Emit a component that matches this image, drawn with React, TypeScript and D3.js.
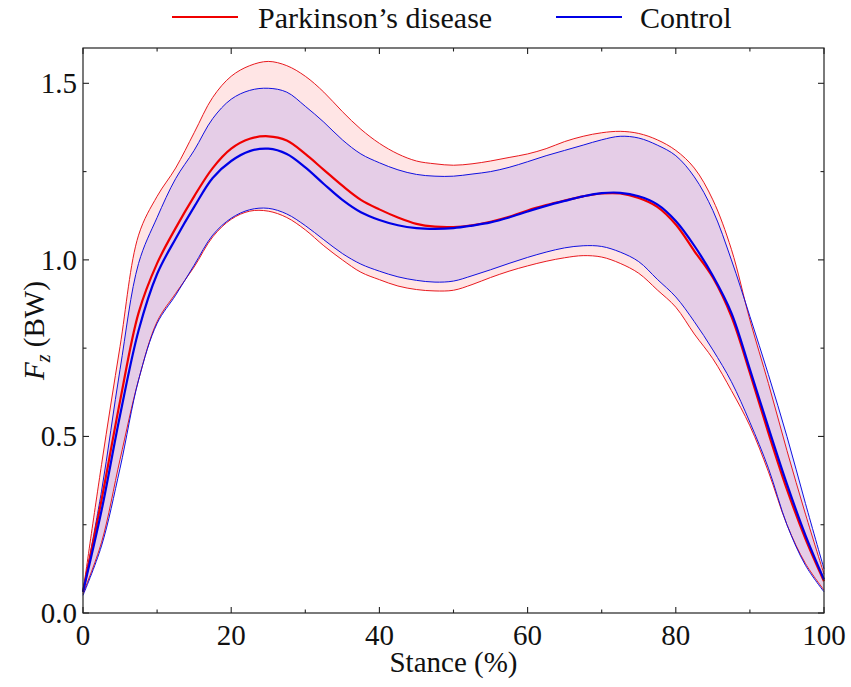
import React from 'react'
import * as d3 from 'd3'

// stance (%) sample points
const stance = [0, 2.5, 5, 7.5, 10, 12.5, 15, 17.5, 20, 22.5, 25, 27.5, 30, 32.5, 35, 37.5, 40, 42.5, 45, 47.5, 50,
  52.5, 55, 57.5, 60, 62.5, 65, 67.5, 70, 72.5, 75, 77.5, 80, 82.5, 85, 87.5, 90, 92.5, 95, 97.5, 100]

// Parkinson's disease: mean, mean + sd, mean - sd
const pdMean = [0.06, 0.32, 0.6, 0.85, 0.99, 1.09, 1.18, 1.26, 1.315, 1.343, 1.35, 1.338, 1.3, 1.255, 1.21, 1.17, 1.143,
  1.12, 1.102, 1.094, 1.093, 1.098, 1.108, 1.122, 1.14, 1.155, 1.168, 1.18, 1.188, 1.188, 1.175, 1.15, 1.1, 1.025, 0.95,
  0.84, 0.68, 0.51, 0.35, 0.21, 0.09]
const pdUpper = [0.06, 0.42, 0.755, 1.07, 1.18, 1.26, 1.36, 1.46, 1.52, 1.55, 1.562, 1.55, 1.52, 1.475, 1.42, 1.37, 1.33,
  1.3, 1.28, 1.272, 1.268, 1.272, 1.28, 1.29, 1.3, 1.315, 1.335, 1.35, 1.36, 1.364, 1.358, 1.34, 1.31, 1.26, 1.17, 1.03,
  0.83, 0.65, 0.46, 0.28, 0.11]
const pdLower = [0.055, 0.2, 0.435, 0.66, 0.825, 0.905, 0.98, 1.065, 1.115, 1.138, 1.138, 1.12, 1.085, 1.04, 1.0, 0.965,
  0.944, 0.926, 0.916, 0.912, 0.914, 0.93, 0.95, 0.968, 0.983, 0.996, 1.006, 1.012, 1.008, 0.99, 0.962, 0.915, 0.866,
  0.79, 0.72, 0.63, 0.53, 0.40, 0.25, 0.14, 0.065]

// Control: mean, mean + sd, mean - sd
const ctMean = [0.06, 0.29, 0.56, 0.8, 0.96, 1.06, 1.15, 1.232, 1.28, 1.308, 1.315, 1.3, 1.262, 1.215, 1.17, 1.135, 1.113,
  1.098, 1.09, 1.088, 1.09, 1.097, 1.106, 1.12, 1.137, 1.153, 1.167, 1.18, 1.189, 1.19, 1.18, 1.157, 1.11, 1.04, 0.955,
  0.85, 0.69, 0.525, 0.365, 0.22, 0.095]
const ctUpper = [0.06, 0.345, 0.69, 0.99, 1.12, 1.23, 1.31, 1.4, 1.455, 1.48, 1.486, 1.475, 1.435, 1.39, 1.34, 1.3, 1.275,
  1.255, 1.242, 1.237, 1.237, 1.243, 1.25, 1.262, 1.278, 1.295, 1.31, 1.325, 1.34, 1.35, 1.345, 1.325, 1.295, 1.235, 1.14,
  1.0, 0.84, 0.675, 0.5, 0.31, 0.125]
const ctLower = [0.05, 0.19, 0.41, 0.66, 0.82, 0.9, 0.985, 1.07, 1.118, 1.142, 1.146, 1.13, 1.097, 1.057, 1.018, 0.988,
  0.968, 0.952, 0.942, 0.937, 0.94, 0.955, 0.972, 0.99, 1.007, 1.022, 1.034, 1.04, 1.038, 1.022, 0.995, 0.945, 0.895,
  0.825, 0.745, 0.655, 0.54, 0.41, 0.25, 0.135, 0.06]

const xMajor = [0, 20, 40, 60, 80, 100]
const xMinor = [10, 30, 50, 70, 90]
const yMajor = [0, 0.5, 1.0, 1.5]
const yMinor = [0.25, 0.75, 1.25]

const W = 851
const H = 687
const margin = { top: 48, right: 27, bottom: 74, left: 83 }
const SERIF = 'Times New Roman'

export default function App() {
  const x = d3.scaleLinear().domain([0, 100]).range([margin.left, W - margin.right])
  const y = d3.scaleLinear().domain([0, 1.6]).range([H - margin.bottom, margin.top])
  const curve = d3.curveCatmullRom.alpha(0.5)

  const band = (lo: number[], hi: number[]) =>
    d3.area<number>()
      .x(d => x(d))
      .y0((_, i) => y(lo[i]))
      .y1((_, i) => y(hi[i]))
      .curve(curve)(stance) || ''

  const line = (vals: number[]) =>
    d3.line<number>()
      .x(d => x(d))
      .y((_, i) => y(vals[i]))
      .curve(curve)(stance) || ''

  const x0 = x(0), x1 = x(100), y0 = y(0), y1 = y(1.6)
  const major = 6, minor = 3.5

  return (
    <svg width={W} height={H} style={{ position: 'absolute', left: 0, top: 0 }}>
      <style>{`text { font-family: "${SERIF}", "Liberation Serif", serif; fill: #111; }`}</style>
      <path d={band(pdLower, pdUpper)} fill="#ff0000" fillOpacity={0.1} />
      <path d={band(ctLower, ctUpper)} fill="#0000ff" fillOpacity={0.1} />
      <path d={line(pdUpper)} fill="none" stroke="#e8191e" strokeWidth={1} />
      <path d={line(pdLower)} fill="none" stroke="#e8191e" strokeWidth={1} />
      <path d={line(ctUpper)} fill="none" stroke="#1010e0" strokeWidth={1} />
      <path d={line(ctLower)} fill="none" stroke="#1010e0" strokeWidth={1} />
      <path d={line(pdMean)} fill="none" stroke="#f00000" strokeWidth={2.2} />
      <path d={line(ctMean)} fill="none" stroke="#0000e6" strokeWidth={2.2} />

      {/* frame */}
      <rect x={x0} y={y1} width={x1 - x0} height={y0 - y1} fill="none" stroke="#222" strokeWidth={1.2} />

      {/* ticks inward on all four sides */}
      {xMajor.concat(xMinor).map(t => {
        const len = xMajor.includes(t) ? major : minor
        return (
          <g key={'xt' + t} stroke="#222" strokeWidth={1.1}>
            <line x1={x(t)} x2={x(t)} y1={y0} y2={y0 - len} />
            <line x1={x(t)} x2={x(t)} y1={y1} y2={y1 + len} />
          </g>
        )
      })}
      {yMajor.concat(yMinor).map(t => {
        const len = yMajor.includes(t) ? major : minor
        return (
          <g key={'yt' + t} stroke="#222" strokeWidth={1.1}>
            <line x1={x0} x2={x0 + len} y1={y(t)} y2={y(t)} />
            <line x1={x1} x2={x1 - len} y1={y(t)} y2={y(t)} />
          </g>
        )
      })}

      {xMajor.map(t => (
        <text key={'xl' + t} x={x(t)} y={y0 + 32} textAnchor="middle" fontSize={29} fontFamily={SERIF}>{t}</text>
      ))}
      {yMajor.map(t => (
        <text key={'yl' + t} x={x0 - 6} y={y(t) + 10} textAnchor="end" fontSize={29} fontFamily={SERIF}>{t.toFixed(1)}</text>
      ))}

      <text x={(x0 + x1) / 2} y={H - 15} textAnchor="middle" fontSize={29} fontFamily={SERIF}>Stance (%)</text>
      <text transform={`translate(44,${(y0 + y1) / 2}) rotate(-90)`} textAnchor="middle" fontSize={29} fontFamily={SERIF}>
        <tspan fontStyle="italic">F</tspan>
        <tspan fontStyle="italic" fontSize={20} dy={6}>z</tspan>
        <tspan dy={-6}> (BW)</tspan>
      </text>

      {/* legend */}
      <line x1={172} x2={238} y1={17} y2={17} stroke="#f00000" strokeWidth={2.2} />
      <text x={258} y={28} fontSize={30} fontFamily={SERIF}>Parkinson’s disease</text>
      <line x1={556} x2={622} y1={17} y2={17} stroke="#0000e6" strokeWidth={2.2} />
      <text x={640} y={28} fontSize={30} fontFamily={SERIF}>Control</text>
    </svg>
  )
}
